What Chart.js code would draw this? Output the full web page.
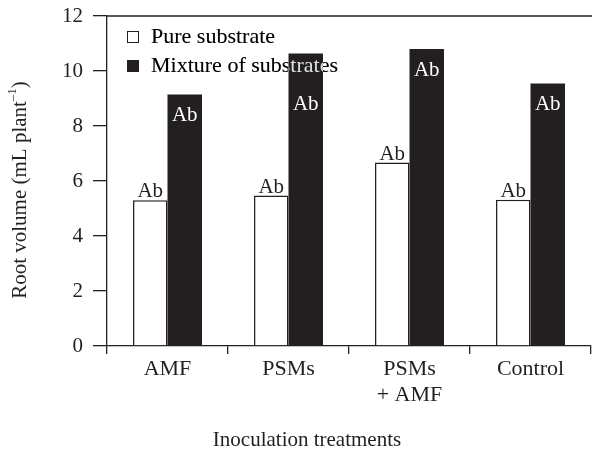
<!DOCTYPE html>
<html>
<head>
<meta charset="utf-8">
<script src="https://cdn.jsdelivr.net/npm/chart.js@4.4.1/dist/chart.umd.min.js"></script>
<style>
  body { margin: 0; background: #fff; }
  #wrap { width: 592px; height: 457px; position: relative; }
</style>
</head>
<body>
<div id="wrap"><canvas id="rootChart"></canvas></div>
<script>
// data
const treatments = ['AMF', 'PSMs', ['PSMs', '+ AMF'], 'Control'];
const pureSubstrate = [5.30, 5.47, 6.67, 5.32];
const mixtureSubstrates = [9.15, 10.64, 10.80, 9.55];
const pureLetters = ['Ab', 'Ab', 'Ab', 'Ab'];
const mixtureLetters = ['Ab', 'Ab', 'Ab', 'Ab'];
const yTicks = [0, 2, 4, 6, 8, 10, 12];

const ink = '#231f20';
const serif = '"Liberation Serif", "Times New Roman", serif';
const legendRows = [37, 66];
const legendX = 127;

const extras = {
    id: 'extras',
    beforeDraw(chart) {
        const c = chart.ctx;
        c.save();
        c.fillStyle = '#fff';
        c.fillRect(0, 0, chart.width, chart.height);
        c.restore();
    },
    afterDatasetsDraw(chart) {
        const c = chart.ctx;
        const area = chart.chartArea;
        c.save();

        // legend extent, so letters inside bars can step below it
        c.font = '22px ' + serif;
        const legendRight = legendX + 24 + Math.max(...chart.data.datasets.map(d => c.measureText(d.label).width));
        const legendBottom = legendRows[legendRows.length - 1] + 12;

        c.font = '21px ' + serif;
        c.textAlign = 'center';

        // letters over the white bars and inside the black bars
        chart.getDatasetMeta(0).data.forEach((bar, i) => {
            c.fillStyle = ink;
            c.textBaseline = 'bottom';
            c.fillText(pureLetters[i], bar.x, bar.y + 2);
        });
        chart.getDatasetMeta(1).data.forEach((bar, i) => {
            let top = bar.y + 11;
            if (top < legendBottom && bar.x - bar.width / 2 < legendRight) top = legendBottom + 16;
            c.fillStyle = '#fff';
            c.textBaseline = 'top';
            c.fillText(mixtureLetters[i], bar.x, top);
        });

        // top frame line
        c.strokeStyle = ink;
        c.lineWidth = 1.3;
        c.beginPath();
        c.moveTo(area.left, area.top);
        c.lineTo(chart.width, area.top);
        c.stroke();

        // legend inside the plot
        chart.data.datasets.forEach((ds, i) => {
            const y = legendRows[i];
            c.fillStyle = ds.backgroundColor;
            c.fillRect(legendX, y - 6, 12, 12);
            c.strokeStyle = ink;
            c.lineWidth = 1;
            c.strokeRect(legendX + 0.5, y - 5.5, 11, 11);
        });
        c.font = '22px ' + serif;
        c.globalCompositeOperation = 'difference';
        c.fillStyle = '#fff';
        c.textAlign = 'left';
        c.textBaseline = 'middle';
        chart.data.datasets.forEach((ds, i) => {
            c.fillText(ds.label, legendX + 24, legendRows[i]);
        });
        c.globalCompositeOperation = 'source-over';

        // axis titles
        c.font = '21px ' + serif;
        c.fillStyle = ink;
        c.textAlign = 'center';
        c.textBaseline = 'middle';
        c.fillText('Inoculation treatments', 307, 440);

        c.translate(20, 190);
        c.rotate(-Math.PI / 2);
        const main = 'Root volume (mL plant';
        const w1 = c.measureText(main).width;
        c.font = '13px ' + serif;
        const w2 = c.measureText('\u20131').width;
        c.font = '21px ' + serif;
        const w3 = c.measureText(')').width;
        let x = -(w1 + w2 + w3) / 2;
        c.textAlign = 'left';
        c.fillText(main, x, 0);
        x += w1;
        c.font = '13px ' + serif;
        c.fillText('\u20131', x, -7);
        x += w2;
        c.font = '21px ' + serif;
        c.fillText(')', x, 0);
        c.restore();
    }
};

new Chart(document.getElementById('rootChart'), {
    type: 'bar',
    data: {
        labels: treatments,
        datasets: [
            {
                label: 'Pure substrate',
                data: pureSubstrate,
                backgroundColor: '#ffffff',
                borderColor: ink,
                borderWidth: 1.5,
                barPercentage: 1,
                categoryPercentage: 0.57
            },
            {
                label: 'Mixture of substrates',
                data: mixtureSubstrates,
                backgroundColor: ink,
                borderWidth: 0,
                barPercentage: 1,
                categoryPercentage: 0.57
            }
        ]
    },
    options: {
        responsive: true,
        maintainAspectRatio: false,
        animation: false,
        layout: { padding: { top: 16, right: 1, left: 0, bottom: 0 } },
        plugins: {
            legend: { display: false },
            tooltip: { enabled: false }
        },
        scales: {
            x: {
                offset: true,
                grid: {
                    display: true,
                    offset: true,
                    drawOnChartArea: false,
                    tickLength: 8,
                    color: ink,
                    lineWidth: 1.3
                },
                border: { display: true, color: ink, width: 1.3 },
                ticks: {
                    color: ink,
                    padding: 2,
                    maxRotation: 0,
                    font: { family: serif, size: 22, lineHeight: 1.2 }
                },
                afterFit(scale) {
                    scale.height = 111;
                    scale.paddingLeft = 0;
                    scale.paddingRight = 0;
                }
            },
            y: {
                min: 0,
                max: 12,
                afterBuildTicks(scale) {
                    scale.ticks = yTicks.map(v => ({ value: v }));
                },
                grid: {
                    display: true,
                    drawOnChartArea: false,
                    tickLength: 14,
                    color: ink,
                    lineWidth: 1.3
                },
                border: { display: true, color: ink, width: 1.3 },
                ticks: {
                    color: ink,
                    padding: 10,
                    font: { family: serif, size: 21 }
                },
                afterFit(scale) {
                    scale.width = 107;
                    scale.paddingTop = 0;
                    scale.paddingBottom = 0;
                }
            }
        }
    },
    plugins: [extras]
});
</script>
</body>
</html>
